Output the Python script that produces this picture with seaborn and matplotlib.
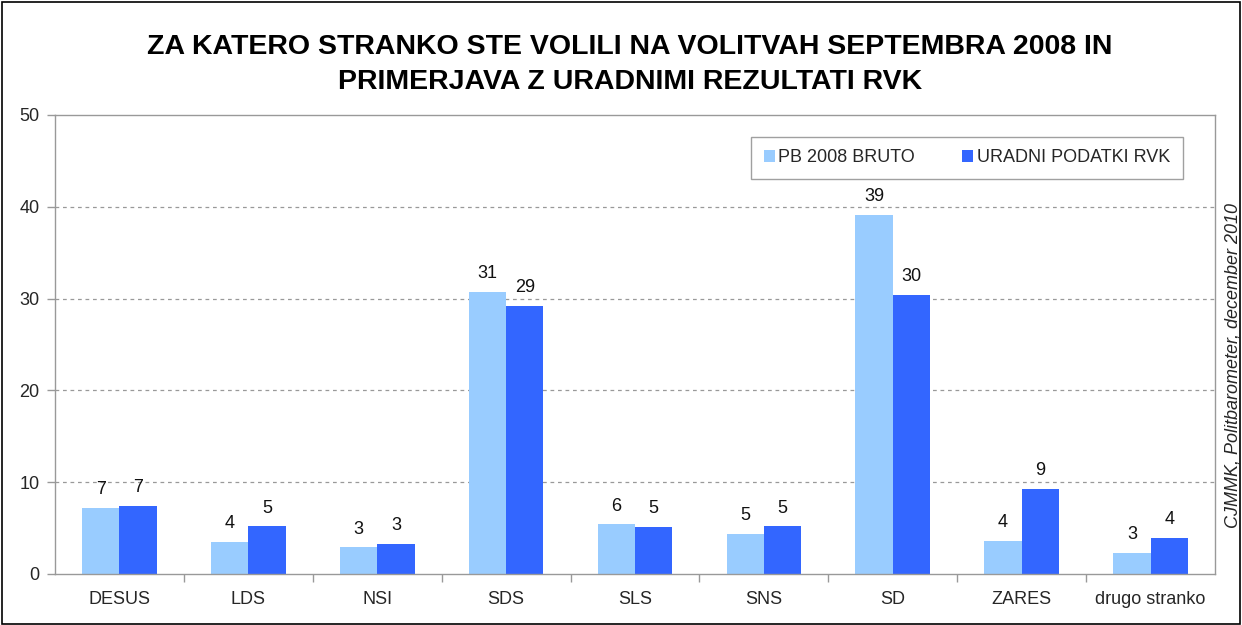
import pandas as pd
import matplotlib.pyplot as plt
import seaborn as sns
from matplotlib.patches import Rectangle

# data
parties = ["DESUS", "LDS", "NSI", "SDS", "SLS", "SNS", "SD", "ZARES", "drugo stranko"]
pb_bruto = [7.2, 3.5, 2.9, 30.7, 5.4, 4.4, 39.1, 3.6, 2.3]
rvk = [7.4, 5.2, 3.3, 29.2, 5.1, 5.2, 30.4, 9.3, 3.9]
pb_labels = ["7", "4", "3", "31", "6", "5", "39", "4", "3"]
rvk_labels = ["7", "5", "3", "29", "5", "5", "30", "9", "4"]
series_names = ["PB 2008 BRUTO", "URADNI PODATKI RVK"]
colors = ["#99CCFF", "#3366FF"]

df = pd.DataFrame({
    "party": parties * 2,
    "value": pb_bruto + rvk,
    "series": [series_names[0]] * len(parties) + [series_names[1]] * len(parties),
})

sns.set_style("white")
plt.rcParams["font.family"] = ["Liberation Sans", "DejaVu Sans"]

fig = plt.figure(figsize=(12.42, 6.25), dpi=100)
ax = fig.add_axes([55 / 1242, 1 - 574 / 625, 1160 / 1242, 459 / 625])

sns.barplot(data=df, x="party", y="value", hue="series", palette=colors,
            width=0.58, saturation=1, ax=ax, edgecolor="none")

# value labels above bars
for cont, labels in zip(ax.containers, [pb_labels, rvk_labels]):
    for bar, lab in zip(cont, labels):
        ax.annotate(lab, (bar.get_x() + bar.get_width() / 2, bar.get_height()),
                    xytext=(0, 7), textcoords="offset points",
                    ha="center", va="bottom", fontsize=13, color="#111111")

ax.set_ylim(0, 50)
ax.set_xlim(-0.5, len(parties) - 0.5)
ax.set_yticks([0, 10, 20, 30, 40, 50])
ax.set_xlabel("")
ax.set_ylabel("")
for y in [10, 20, 30, 40]:
    ax.axhline(y, color="#999999", linestyle=(0, (3, 3)), linewidth=0.9, zorder=0)

for s in ax.spines.values():
    s.set_color("#999999")
    s.set_linewidth(1.0)

ax.tick_params(axis="y", which="major", length=6, width=1, color="#999999",
               labelsize=13, pad=5, left=True)
ax.tick_params(axis="x", which="major", length=0, labelsize=13, pad=12)
ax.set_xticks([i + 0.5 for i in range(len(parties) - 1)], minor=True)
ax.tick_params(axis="x", which="minor", length=6, width=1, color="#999999",
               bottom=True, direction="out")

leg = ax.legend(loc="upper right", bbox_to_anchor=(0.972, 0.953), ncol=2,
                frameon=True, fancybox=False, fontsize=13, handlelength=0.6,
                handleheight=0.6, handletextpad=0.2, columnspacing=2.6,
                borderpad=0.7, borderaxespad=0)
leg.get_frame().set_edgecolor("#888888")
leg.get_frame().set_linewidth(1.0)
leg.get_frame().set_facecolor("white")

fig.text(0.507, 1 - 47 / 625, "ZA KATERO STRANKO STE VOLILI NA VOLITVAH SEPTEMBRA 2008 IN",
         ha="center", va="center", fontsize=20.5, fontweight="bold", color="black")
fig.text(0.507, 1 - 82 / 625, "PRIMERJAVA Z URADNIMI REZULTATI RVK",
         ha="center", va="center", fontsize=20.5, fontweight="bold", color="black")

fig.text(1233 / 1242, 1 - 365 / 625, "CJMMK, Politbarometer, december 2010",
         rotation=90, ha="center", va="center", fontsize=13, style="italic")

fig.patches.append(Rectangle((0.002, 0.002), 0.996, 0.995, transform=fig.transFigure,
                             fill=False, edgecolor="black", linewidth=1.2))

fig.savefig("out.png", dpi=100)
